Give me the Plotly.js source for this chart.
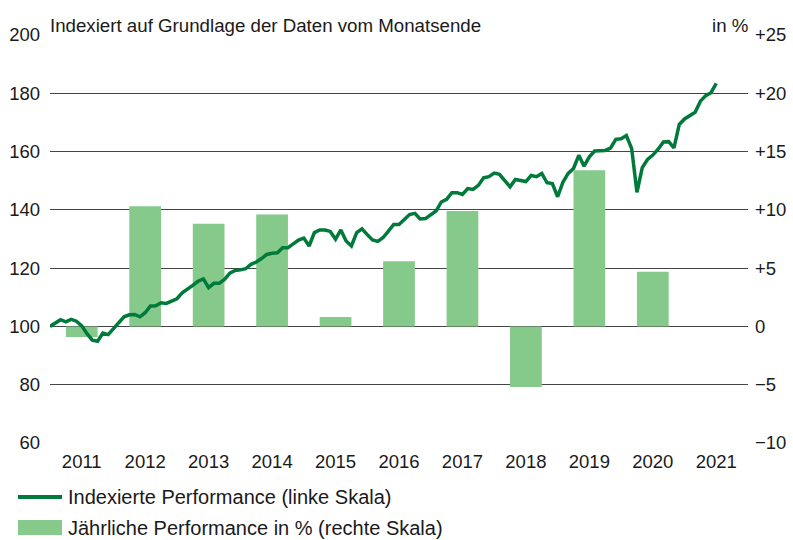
<!DOCTYPE html>
<html><head><meta charset="utf-8">
<script src="https://cdn.plot.ly/plotly-3.0.1.min.js"></script>
<style>body{margin:0;background:#fff}#c{width:793px;height:540px}</style>
</head><body><div id="c"></div>
<script>
// Indexed performance, month-end values, Dec 2010 = 100 (index 0) to Jun 2021
var indexed = [
100,101.2,102.3,101.6,102.4,101.8,100.2,97.5,95.3,94.9,97.7,97.2,
99.2,101.5,103.3,104.0,104.1,103.3,104.7,107.0,107.1,108.1,107.9,108.7,
109.5,111.5,112.7,114.1,115.5,116.3,113.3,114.8,114.8,116.1,118.3,119.2,
119.4,119.8,121.3,122.1,123.3,124.7,125.1,125.3,127.0,127.0,128.3,129.6,
130.3,127.6,132.2,133.1,133.1,132.6,129.9,133.1,129.3,127.6,132.2,133.5,
131.5,129.7,129.2,130.5,132.7,135.0,135.0,136.7,138.4,138.8,136.9,137.0,
138.4,139.6,142.7,143.6,145.9,145.9,145.3,147.3,147.0,148.4,151.0,151.4,
152.6,152.2,150.0,147.9,150.4,150.0,149.7,151.8,151.4,152.5,149.3,149.0,
144.5,149.5,152.5,154.2,158.7,155.0,158.2,160.2,160.2,160.4,161.2,164.2,
164.4,165.5,161.0,146.0,154.5,157.3,158.8,160.8,163.3,163.4,161.3,169.3,
171.2,172.2,173.5,177.3,179.2,180.2,183.4
];
var years = [2011,2012,2013,2014,2015,2016,2017,2018,2019,2020];
var yearly = [-0.9,10.3,8.8,9.6,0.8,5.6,9.9,-5.2,13.4,4.7];
var yearLabels = ['2011','2012','2013','2014','2015','2016','2017','2018','2019','2020','2021'];
var leftTicks = [60,80,100,120,140,160,180,200];
var rightTicks = [-10,-5,0,5,10,15,20,25];
var rightLabels = ['\u221210','\u22125','0','+5','+10','+15','+20','+25'];
var lineName = 'Indexierte Performance (linke Skala)';
var barName = 'J\u00e4hrliche Performance in % (rechte Skala)';

var FONT = '"Liberation Sans",Arial,sans-serif';
var TXT = '#1a1a1a';
var LINE_C = '#007a3b', BAR_C = '#85c98b';
var TS = 18.7, LS = 20, KS = 18.5;
var monthX = indexed.map(function(v,i){return i;});
var barX = years.map(function(y){return (y-2011)*12+6;});
var yearTickX = yearLabels.map(function(y){return (+y-2011)*12+6;});

var traces = [
 {type:'bar', x:barX, y:yearly, yaxis:'y', width:6,
  marker:{color:BAR_C}, name:barName, hoverinfo:'skip'},
 {type:'scatter', mode:'lines', x:monthX, y:indexed, yaxis:'y2',
  line:{color:LINE_C, width:3.5}, name:lineName, hoverinfo:'skip'}
];
var layout = {
 width:793, height:540, margin:{l:50,r:45,t:35,b:97,autoexpand:false},
 paper_bgcolor:'#fff', plot_bgcolor:'#fff',
 font:{family:FONT, size:TS, color:TXT},
 showlegend:false,
 xaxis:{range:[0,132], tickvals:yearTickX, ticktext:yearLabels, showgrid:false, zeroline:false,
   showline:false, ticks:'', tickfont:{size:KS}, ticklabelstandoff:5},
 yaxis:{range:[-10,25], side:'right', tickvals:rightTicks, ticktext:rightLabels,
   showgrid:true, gridcolor:'#454545', gridwidth:1, zeroline:false, ticks:'',
   tickfont:{size:KS}, ticklabelstandoff:6},
 yaxis2:{range:[60,200], overlaying:'y', side:'left', tickvals:leftTicks,
   showgrid:false, zeroline:false, ticks:'', tickfont:{size:KS}, ticklabelstandoff:9},
 shapes:[
  {type:'line', xref:'paper', yref:'paper', x0:-32/698, x1:12/698, y0:-54/408, y1:-54/408,
   line:{color:LINE_C, width:4}},
  {type:'rect', xref:'paper', yref:'paper', x0:-32/698, x1:12/698, y0:-77/408, y1:-92/408,
   line:{width:0}, fillcolor:BAR_C}
 ],
 annotations:[
  {text:'Indexiert auf Grundlage der Daten vom Monatsende', xref:'paper', yref:'paper', x:0, y:1,
   xanchor:'left', yanchor:'bottom', showarrow:false, font:{size:TS}, xshift:-2, yshift:-3},
  {text:'in %', xref:'paper', yref:'paper', x:1, y:1, xanchor:'right', yanchor:'bottom',
   showarrow:false, font:{size:TS}, xshift:2, yshift:-3},
  {text:lineName, xref:'paper', yref:'paper', x:18/698, y:-54/408, xanchor:'left', yanchor:'middle',
   showarrow:false, font:{size:LS}, xshift:-2},
  {text:barName, xref:'paper', yref:'paper', x:18/698, y:-84.5/408, xanchor:'left', yanchor:'middle',
   showarrow:false, font:{size:LS}, xshift:-2}
 ]
};
Plotly.newPlot('c', traces, layout, {staticPlot:true});
</script></body></html>
